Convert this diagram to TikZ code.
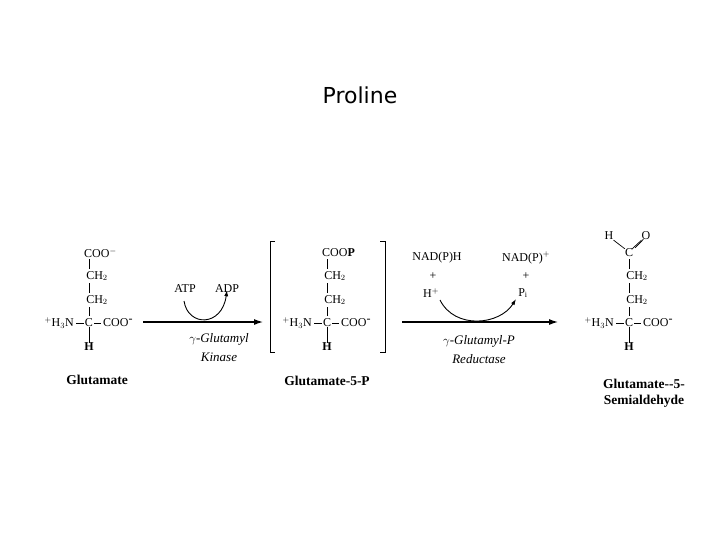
\documentclass[tikz,border=0pt]{standalone}
\usepackage{fontspec}
\setmainfont{Liberation Serif}
\newfontfamily\titlefont{DejaVu Sans}
\usetikzlibrary{arrows.meta}
\tikzset{
 t/.style={inner sep=0pt,font=\fontsize{12}{14}\selectfont},
 lab/.style={inner sep=0pt,font=\fontsize{13.5}{16}\selectfont\bfseries},
 enz/.style={inner sep=0pt,font=\fontsize{13}{15}\selectfont\itshape},
 bond/.style={line width=0.7pt},
 rx/.style={line width=1.2pt,-{Latex[length=9pt,width=6pt]}},
 cv/.style={line width=0.9pt,-{Latex[length=6pt,width=4pt]}}
}
\newcommand{\aacore}[2]{% x, prefix
 \node[t] (#2c) at (#1,323) {C};
 \node[t] (#2c2) at (#1+8,300) {CH$_2$};
 \node[t] (#2c1) at (#1+8,276) {CH$_2$};
 \node[t,anchor=east] (#2n) at (#1-15,323) {$^{+}$H$_3$N};
 \node[t,anchor=west] (#2r) at (#1+14,323) {COO$^{\raisebox{0pt}{-}}$};
 \node[t,font=\fontsize{12}{14}\selectfont\bfseries] (#2h) at (#1,347) {H};
 \draw[bond] (#2n.east) ++(2pt,0) -- ([xshift=-1pt]#2c.west);
 \draw[bond] ([xshift=1pt]#2c.east) -- ([xshift=-2pt]#2r.west);
 \draw[bond] (#2c.south) -- (#2h.north);
 \draw[bond] (#1,316) -- (#1,307);
 \draw[bond] (#1,293) -- (#1,283);
}
\begin{document}
\begin{tikzpicture}[x=1pt,y=-1pt]
\useasboundingbox (0,0) rectangle (720,540);
\node[inner sep=0pt,font=\fontsize{22}{26}\selectfont\titlefont] (title) at (360,95) {Proline};
% Glutamate
\aacore{89}{a}
\node[t,anchor=west] (atop) at (84,253) {COO$^{-}$};
\draw[bond] (89,259) -- (89,269);
\node[lab] (alab) at (97,380) {Glutamate};
% Glutamate-5-P
\aacore{327}{b}
\node[t,anchor=west] (btop) at (322,253) {COO\textbf{P}};
\draw[bond] (327,259) -- (327,269);
\node[lab] (blab) at (327,381) {Glutamate-5-P};
\draw[line width=0.8pt] (275,241) -- (270,241) -- (270,352) -- (275,352);
\draw[line width=0.8pt] (380,241) -- (385,241) -- (385,352) -- (380,352);
% Semialdehyde
\aacore{629}{c}
\node[t] (ctop) at (629,253) {C};
\node[t] (cH) at (609,236) {H};
\node[t] (cO) at (646,236) {O};
\draw[bond] (629,259) -- (629,269);
\draw[bond] (cH.south east) -- (ctop.north west);
\draw[bond] ([xshift=-1pt]ctop.north east) -- (cO.south west);
\draw[bond] ([xshift=2pt,yshift=1pt]ctop.north east) -- ([xshift=2pt,yshift=1pt]cO.south west);
\node[lab] (clab1) at (644,384) {Glutamate-{}-5-};
\node[lab] (clab2) at (644,401) {Semialdehyde};
% Reaction 1
\coordinate (r1s) at (143,322); \coordinate (r1e) at (263,322);
\draw[rx] (r1s) -- (r1e);
\node[t] (atp) at (185,289) {ATP};
\node[t] (adp) at (227,289) {ADP};
\draw[cv] (184,301) .. controls (188,327) and (222,327) .. ([yshift=3pt]adp.south);
\node[enz] (k1) at (219,339) {$\gamma$-Glutamyl};
\node[enz] (k2) at (219,357) {Kinase};
% Reaction 2
\coordinate (r2s) at (402,322); \coordinate (r2e) at (558,322);
\draw[rx] (r2s) -- (r2e);
\node[t] (nadh) at (437,258) {NAD(P)H};
\node[t] (p1) at (433,276) {+};
\node[t] (hp) at (431,293) {H$^{+}$};
\node[t] (nadp) at (526,258) {NAD(P)$^{+}$};
\node[t] (p2) at (526,276) {+};
\node[t] (pi) at (523,293) {P$_{\mathrm{i}}$};
\draw[cv] (440,300) .. controls (455,330) and (500,325) .. (516,299);
\node[enz] (e1) at (479,341) {$\gamma$-Glutamyl-P};
\node[enz] (e2) at (479,359) {Reductase};
\end{tikzpicture}
\end{document}
